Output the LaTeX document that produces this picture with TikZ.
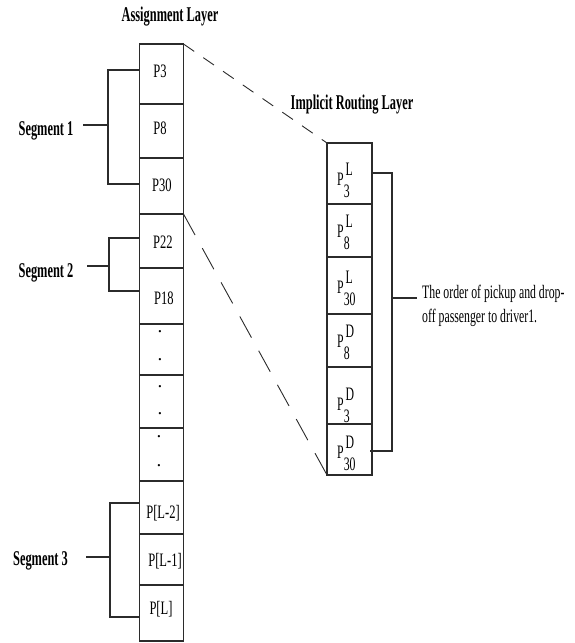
\documentclass[tikz,border=0pt]{standalone}
\usepackage{fontspec}
\setmainfont{Liberation Serif}
\usepackage{graphicx}
\newcommand{\sqz}[2][0.62]{\scalebox{#1}[1]{#2}}
\newcommand{\PSS}[2]{P\rlap{\raisebox{-12pt}{#1}}\hspace{3pt}\raisebox{9.5pt}{#2}}
\definecolor{ln}{HTML}{2B2B2B}
\begin{document}
\begin{tikzpicture}[x=1pt,y=-1pt,
  cell/.style={draw=ln, line width=1.2pt, minimum width=44pt, inner sep=0pt, outer sep=0pt},
  rcell/.style={draw=ln, line width=1.2pt, minimum width=45pt, inner sep=0pt, outer sep=0pt},
  conn/.style={draw=ln, line width=1.2pt},
  dsh/.style={draw=ln, line width=0.9pt},
  ttl/.style={inner sep=0pt, anchor=base, font=\fontsize{21}{24}\selectfont\bfseries},
  ptxt/.style={inner sep=0pt, anchor=base, font=\fontsize{19}{22}\selectfont},
  rtxt/.style={inner sep=0pt, anchor=base west, font=\fontsize{19}{22}\selectfont},
  dot/.style={inner sep=0pt, anchor=center, font=\fontsize{19}{22}\selectfont}]
\useasboundingbox (0,0) rectangle (574,643);

% titles
\node[ttl] (tA) at (170,21) {\sqz[0.59]{Assignment Layer}};
\node[ttl] (tR) at (352,109) {\sqz[0.59]{Implicit Routing Layer}};

% left column cells
\node[cell, minimum height=60pt] (a1) at (161.5,74) {};
\node[cell, minimum height=54pt] (a2) at (161.5,131) {};
\node[cell, minimum height=56pt] (a3) at (161.5,186) {};
\node[cell, minimum height=54pt] (a4) at (161.5,241) {};
\node[cell, minimum height=56pt] (a5) at (161.5,296) {};
\node[cell, minimum height=51pt] (a6) at (161.5,349.5) {};
\node[cell, minimum height=53pt] (a7) at (161.5,401.5) {};
\node[cell, minimum height=53pt] (a8) at (161.5,454.5) {};
\node[cell, minimum height=53pt] (a9) at (161.5,507.5) {};
\node[cell, minimum height=51pt] (a10) at (161.5,559.5) {};
\node[cell, minimum height=56pt] (a11) at (161.5,613) {};

% left cell texts
\node[ptxt] (t1) at (160,77) {\sqz[0.66]{P3}};
\node[ptxt] (t2) at (160,134) {\sqz[0.66]{P8}};
\node[ptxt] (t3) at (162,191) {\sqz[0.66]{P30}};
\node[ptxt] (t4) at (163,248) {\sqz[0.66]{P22}};
\node[ptxt] (t5) at (164,304) {\sqz[0.66]{P18}};
\node[dot] (d1) at (160,332) {.};
\node[dot] (d2) at (160,360) {.};
\node[dot] (d3) at (160,387) {.};
\node[dot] (d4) at (160,414) {.};
\node[dot] (d5) at (159,437) {.};
\node[dot] (d6) at (159,466) {.};
\node[ptxt] (t9) at (163,518) {\sqz[0.66]{P[L-2]}};
\node[ptxt] (t10) at (165,566) {\sqz[0.66]{P[L-1]}};
\node[ptxt] (t11) at (161,614) {\sqz[0.66]{P[L]}};

% right column cells
\node[rcell, minimum height=61pt] (r1) at (349.5,173.5) {};
\node[rcell, minimum height=53pt] (r2) at (349.5,230.5) {};
\node[rcell, minimum height=57pt] (r3) at (349.5,285.5) {};
\node[rcell, minimum height=53pt] (r4) at (349.5,340.5) {};
\node[rcell, minimum height=57pt] (r5) at (349.5,395.5) {};
\node[rcell, minimum height=51pt] (r6) at (349.5,449.5) {};

\node[rtxt] (q1) at (337,185) {\sqz{\PSS{3}{L}}};
\node[rtxt] (q2) at (337,237) {\sqz{\PSS{8}{L}}};
\node[rtxt] (q3) at (337,293) {\sqz{\PSS{30}{L}}};
\node[rtxt] (q4) at (337,347) {\sqz{\PSS{8}{D}}};
\node[rtxt] (q5) at (337,410) {\sqz{\PSS{3}{D}}};
\node[rtxt] (q6) at (337,458) {\sqz{\PSS{30}{D}}};

% description
\node[rtxt] (e1) at (422,298) {\sqz{The order of pickup and drop-}};
\node[rtxt] (e2) at (422,322) {\sqz{off passenger to driver1.}};

% segment labels
\node[ttl] (s1) at (46,135) {\sqz[0.59]{Segment 1}};
\node[ttl] (s2) at (46,277) {\sqz[0.59]{Segment 2}};
\node[ttl] (s3) at (40.5,565) {\sqz[0.59]{Segment 3}};

% brackets
\coordinate (st1) at (83,125);
\coordinate (j1) at (108,125);
\draw[conn] ([yshift=4pt]a1.west) -- (108,70) -- (108,184) -- ([yshift=2pt]a3.west);
\draw[conn] (st1) -- (j1);

\coordinate (st2) at (87,266);
\coordinate (j2) at (109,266);
\draw[conn] ([yshift=3pt]a4.west) -- (109,238) -- (109,291) -- ([yshift=5pt]a5.west);
\draw[conn] (st2) -- (j2);

\coordinate (st3) at (86,557);
\coordinate (j3) at (110,557);
\draw[conn] ([yshift=4.5pt]a9.west) -- (110,503) -- (110,617) -- ([yshift=-4pt]a11.west);
\draw[conn] (st3) -- (j3);

\coordinate (rb) at (370,451);
\coordinate (rj) at (392,298);
\coordinate (re) at (417,298);
\draw[conn] ([yshift=0.5pt]r1.east) -- (392,173) -- (392,451) -- (rb);
\draw[conn] (rj) -- (re);

% zoom lines
\draw[dsh, dash pattern=on 13pt off 11pt] (a1.north east) -- (r1.north west);
\draw[dsh, dash pattern=on 24pt off 15pt] (a4.north east) -- (r6.south west);
\end{tikzpicture}
\end{document}
